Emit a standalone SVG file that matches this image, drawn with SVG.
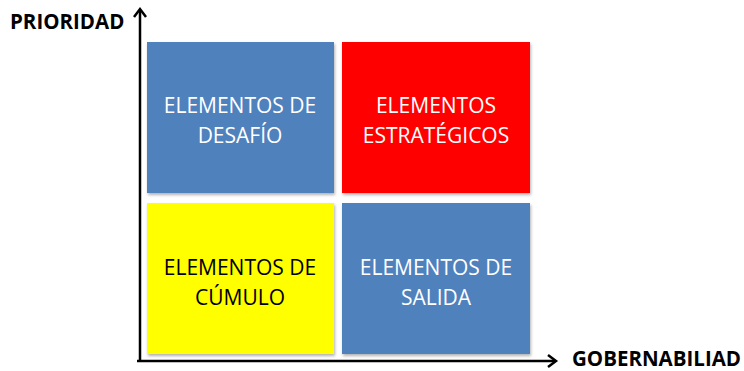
<svg xmlns="http://www.w3.org/2000/svg" width="744" height="371" viewBox="0 0 744 371">
<style>
.box{stroke:none}
.lbl{font-family:"Open Sans","Liberation Sans",sans-serif;font-size:21px;text-anchor:middle}
.ax{font-family:"Open Sans","Liberation Sans",sans-serif;font-size:20.5px;font-weight:bold;fill:#000}
.axis{stroke:#000;stroke-width:2.5;fill:none}
</style>
<defs>
<filter id="sh" x="-5%" y="-5%" width="110%" height="110%">
<feDropShadow dx="1" dy="2" stdDeviation="1.5" flood-color="#000" flood-opacity="0.3"/>
</filter>
</defs>
<rect width="744" height="371" fill="#fff"/>
<g id="desafio">
<rect class="box" x="147" y="42" width="187" height="151" fill="#4f81bd" filter="url(#sh)"/>
<text class="lbl" x="240" y="113" fill="#fff">ELEMENTOS DE</text>
<text class="lbl" x="240" y="143" fill="#fff">DESAFÍO</text>
</g>
<g id="estrategicos">
<rect class="box" x="342" y="42" width="188" height="151" fill="#ff0000" filter="url(#sh)"/>
<text class="lbl" x="436" y="113" fill="#fff">ELEMENTOS</text>
<text class="lbl" x="436" y="143" fill="#fff">ESTRATÉGICOS</text>
</g>
<g id="cumulo">
<rect class="box" x="147" y="203" width="187" height="151" fill="#ffff00" filter="url(#sh)"/>
<text class="lbl" x="240" y="275" fill="#000">ELEMENTOS DE</text>
<text class="lbl" x="240" y="305" fill="#000">CÚMULO</text>
</g>
<g id="salida">
<rect class="box" x="342" y="203" width="188" height="151" fill="#4f81bd" filter="url(#sh)"/>
<text class="lbl" x="436" y="275" fill="#fff">ELEMENTOS DE</text>
<text class="lbl" x="436" y="305" fill="#fff">SALIDA</text>
</g>
<g id="connectors">
<path class="axis" d="M140 362 V10"/>
<path class="axis" d="M134 17 L140 9 L146 17"/>
<path class="axis" d="M137 361 H555"/>
<path class="axis" d="M548 355 L556 361 L548 367"/>
</g>
<text class="ax" x="10" y="29">PRIORIDAD</text>
<text class="ax" x="572" y="366">GOBERNABILIAD</text>
</svg>
